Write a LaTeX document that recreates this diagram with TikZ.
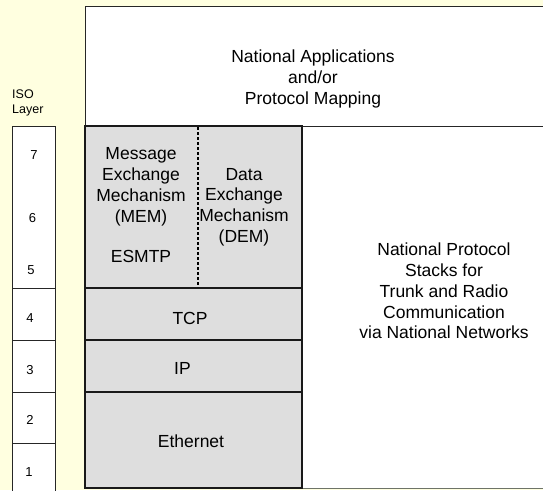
\documentclass[tikz,border=0pt]{standalone}
\usepackage{fontspec}
\setmainfont{Liberation Sans}
\definecolor{bgyellow}{HTML}{FFFFE0}
\definecolor{boxgrey}{HTML}{DEDEDE}
\definecolor{rimgrey}{HTML}{6E7468}
\tikzset{
	stack/.style={draw=black!90,line width=1.8pt,fill=boxgrey},
	plain/.style={draw=black!85,line width=0.8pt},
	big/.style={font=\fontsize{17.5}{20.8}\selectfont,align=center,inner sep=0pt},
	small/.style={font=\fontsize{13}{15}\selectfont,inner sep=0pt},
}

\begin{document}
\begin{tikzpicture}[x=1pt,y=-1pt]
			\fill [bgyellow] (0,0) rectangle (543,490);
			\useasboundingbox (0,0) rectangle (543,490);
			\fill [white] (85,6) rectangle (545,126);
			\fill [white] (302,126) rectangle (545,488);
			\draw [plain] (545,6) -- (85,6) -- (85,126) -- (545,126);
			\draw [rimgrey,line width=1pt] (302,488) -- (545,488);
			\draw [plain,fill=white] (12,492) -- (12,126) -- (55,126) -- (55,492);
			\foreach \y in {288,340,392,443}
				\draw [plain] (12,\y) -- (55,\y);
			\begin{scope}[every path/.style={stack}]
			\draw (85,126) rectangle (302,288);
			\draw (85,288) rectangle (302,340);
			\draw (85,340) rectangle (302,392);
			\draw (85,392) rectangle (302,488);
			\end{scope}
			\draw [line width=2pt,dash pattern=on 3.4pt off 1.6pt] (198,127) -- (198,287);
			\node [big] (apps) at (313,79) {National Applications\\and/or\\Protocol Mapping};
			\node [big] (natstacks) at (444,291) {National Protocol\\Stacks for\\Trunk and Radio\\Communication\\via National Networks};
			\node [big] (mem) at (141,205) {Message\\Exchange\\Mechanism\\(MEM)\\[19pt]ESMTP};
			\node [big] (dem) at (244,207) {Data\\Exchange\\Mechanism\\(DEM)};
			\node [big] (tcp) at (190,318) {TCP};
			\node [big] (ip) at (182.5,368) {IP};
			\node [big] (eth) at (191,441) {Ethernet};
			\node [small,font=\fontsize{12.5}{15}\selectfont,align=left,anchor=west] (iso) at (12,103) {ISO\\Layer};
			\node [small] (l7) at (34,155) {7};
			\node [small] (l6) at (32.5,218) {6};
			\node [small] (l5) at (31,270) {5};
			\node [small] (l4) at (30,318) {4};
			\node [small] (l3) at (30,370) {3};
			\node [small] (l2) at (30,420) {2};
			\node [small] (l1) at (29,472) {1};
\end{tikzpicture}
\end{document}
